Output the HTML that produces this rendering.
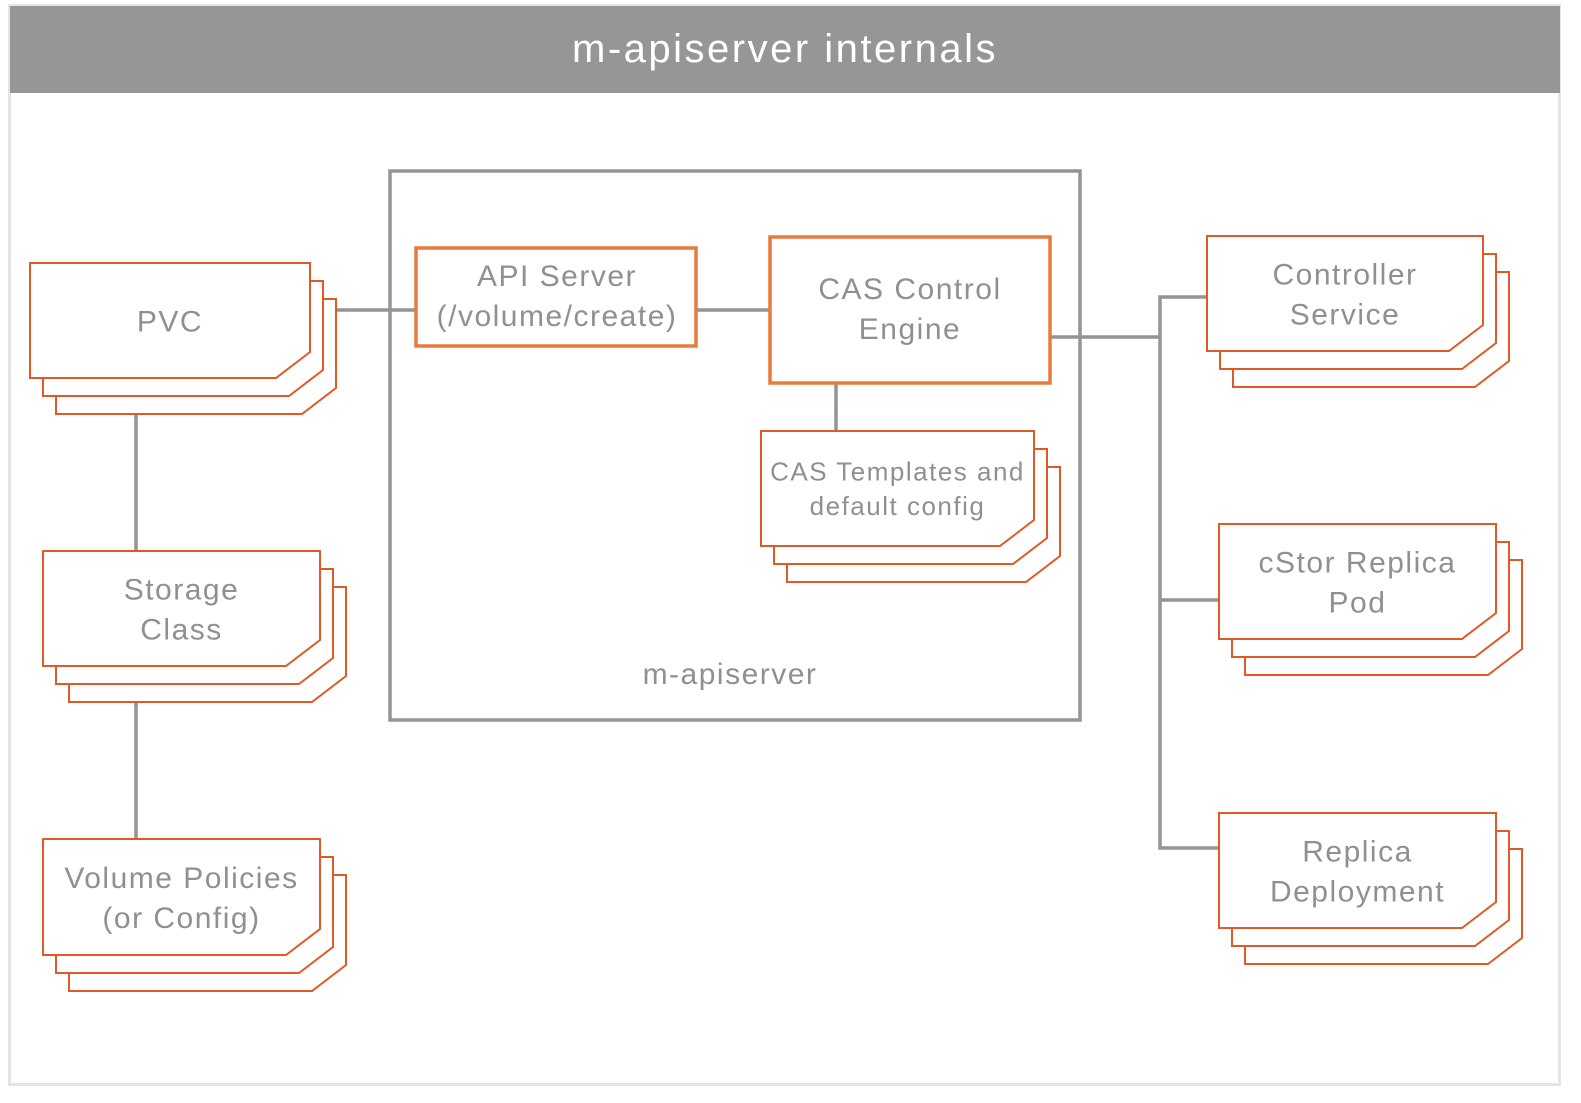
<!DOCTYPE html>
<html><head><style>
body{margin:0;background:#fff}
svg text{font-family:"Liberation Sans",sans-serif;fill:#909090;text-anchor:middle;letter-spacing:1.5px}
</style></head><body>
<svg width="1581" height="1098" viewBox="0 0 1581 1098" xmlns="http://www.w3.org/2000/svg">
<rect x="9.5" y="5.5" width="1550" height="1079" fill="#fff" stroke="#e4e4e4" stroke-width="3"/>
<rect x="10" y="6" width="1550" height="87" fill="#959698"/>
<text x="785" y="62" style="fill:#fff;font-size:40px;letter-spacing:2.5px">m-apiserver internals</text>
<g stroke="#949494" stroke-width="3.5" fill="none">
<rect x="390" y="171" width="690" height="549"/>
<line x1="334" y1="310" x2="416" y2="310"/>
<line x1="696" y1="310" x2="770" y2="310"/>
<line x1="1050" y1="337" x2="1160" y2="337"/>
<polyline points="1207,297 1160,297 1160,848 1219,848"/>
<line x1="1160" y1="600" x2="1219" y2="600"/>
<line x1="836" y1="383" x2="836" y2="431"/>
<line x1="136" y1="414" x2="136" y2="551"/>
<line x1="136" y1="702" x2="136" y2="839"/>
</g>
<g id="stacks" fill="#fff" stroke="#e05a28" stroke-width="2"></g>
<rect x="416" y="248" width="280" height="98" fill="#fff" stroke="#e87a3c" stroke-width="3.5"/>
<rect x="770" y="237" width="280" height="146" fill="#fff" stroke="#e87a3c" stroke-width="3.5"/>
<g style="font-size:30px">
<text x="557" y="286">API Server</text>
<text x="557" y="326">(/volume/create)</text>
<text x="910" y="299">CAS Control</text>
<text x="910" y="339">Engine</text>
<text x="730" y="684">m-apiserver</text>
</g>
<g id="labels" style="font-size:30px"></g>
</svg>
<script>
var ns="http://www.w3.org/2000/svg";
var st=document.getElementById("stacks"),lb=document.getElementById("labels");
function stack(x,y,w,h,lines,fs){
 for(var i=2;i>=0;i--){
  var ox=x+13*i,oy=y+18*i;
  var p=document.createElementNS(ns,"polygon");
  p.setAttribute("points",[ox,oy,ox+w,oy,ox+w,oy+h-26,ox+w-34,oy+h,ox,oy+h].join(" "));
  st.appendChild(p);
 }
 var cy=y+h/2, lh=fs*1.33;
 lines.forEach(function(t,k){
  var e=document.createElementNS(ns,"text");
  e.setAttribute("x",x+w/2);
  e.setAttribute("y",cy+(k-(lines.length-1)/2)*lh+fs*0.36);
  e.setAttribute("style","font-size:"+fs+"px");
  e.textContent=t;lb.appendChild(e);
 });
}
stack(30,263,280,115,["PVC"],30);
stack(43,551,277,115,["Storage","Class"],30);
stack(43,839,277,116,["Volume Policies","(or Config)"],30);
stack(1207,236,276,115,["Controller","Service"],30);
stack(1219,524,277,115,["cStor Replica","Pod"],30);
stack(1219,813,277,115,["Replica","Deployment"],30);
stack(761,431,273,115,["CAS Templates and","default config"],26);
</script>
</body></html>
